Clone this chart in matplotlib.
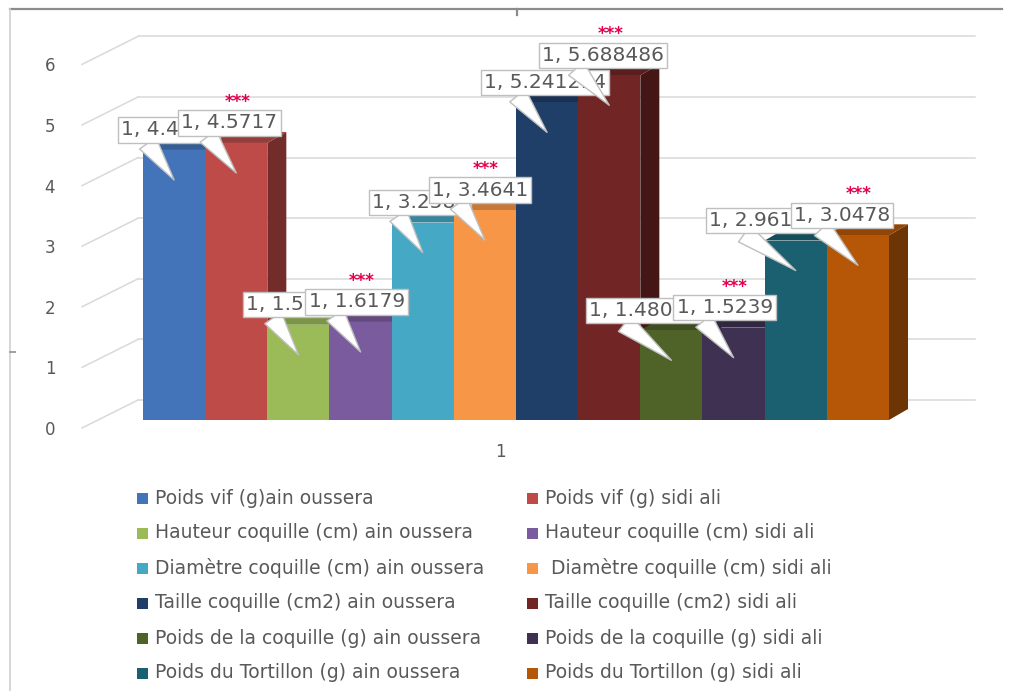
import matplotlib
matplotlib.use("Agg")
import matplotlib.pyplot as plt
from matplotlib.patches import Polygon, Rectangle
from matplotlib.colors import to_rgb
import numpy as np

# ---------------- data ----------------
series = ["Poids vif (g)ain oussera", "Poids vif (g) sidi ali",
          "Hauteur coquille (cm) ain oussera", "Hauteur coquille (cm) sidi ali",
          "Diamètre coquille (cm) ain oussera", " Diamètre coquille (cm) sidi ali",
          "Taille coquille (cm2) ain oussera", "Taille coquille (cm2) sidi ali",
          "Poids de la coquille (g) ain oussera", "Poids de la coquille (g) sidi ali",
          "Poids du Tortillon (g) ain oussera", "Poids du Tortillon (g) sidi ali"]
values = [4.4563, 4.5717, 1.5718, 1.6179, 3.2583, 3.4641,
          5.241214, 5.688486, 1.480417, 1.5239, 2.961538, 3.0478]
signif = ["", "***", "", "***", "", "***", "", "***", "", "***", "", "***"]
category = "1"
yticks = [0, 1, 2, 3, 4, 5, 6]
colors = ["#4374B9", "#BE4B48", "#9BBB59", "#7A5C9E", "#45A8C4", "#F79646",
          "#1F3F68", "#722525", "#4F6228", "#3F3151", "#1B6070", "#B65708"]

# ---------------- layout helpers (pixel-based frame) ----------------
W, H = 1012, 691
S = 60.6          # pixels per unit
FLOOR = 420       # pixel row of value 0 on the front plane
def Y(p):         # pixel row -> data y
    return (FLOOR - p) / S

fig = plt.figure(figsize=(W / 100, H / 100), dpi=100)
ax = fig.add_axes([0, 0, 1, 1])
ax.set_xlim(0, W)
ax.set_ylim(Y(H), Y(0))
ax.axis("off")

grey_txt = "#595959"
grid_c = "#D9D9D9"

# frame of the chart object
ax.plot([10, 1002], [Y(9), Y(9)], color="#8C8C8C", lw=1.6, zorder=0.5)
ax.plot([10, 10], [Y(9), Y(H)], color="#D0D0D0", lw=1.2, zorder=0.5)
ax.plot([517, 517], [Y(9), Y(15)], color="#8C8C8C", lw=1.6, zorder=0.5)
ax.plot([10, 15], [Y(352), Y(352)], color="#A0A0A0", lw=1.4, zorder=0.5)

# walls / gridlines
back_x0, back_x1 = 138, 975
side_x0 = 82
back_off = 20 / S
front_off = -8 / S
for v in yticks:
    ax.plot([side_x0, back_x0], [v + front_off, v + back_off], color=grid_c, lw=1.1, zorder=1)
    ax.plot([back_x0, back_x1], [v + back_off, v + back_off], color=grid_c, lw=1.1, zorder=1)
    ax.text(50, v - 10 / S, str(v), ha="center", va="center", fontsize=12,
            color=grey_txt, family="DejaVu Sans")

# ---------------- 3D-looking bars ----------------
n = len(values)
x0 = 143
bw = (889 - 143) / n
dx = 19
dy = 11 / S
lefts = x0 + bw * np.arange(n)

def shade(c, f):
    r, g, b = to_rgb(c)
    return (r * f, g * f, b * f)

bars = ax.bar(lefts, values, width=bw, align="edge", color=colors, linewidth=0)
for i, (L, v, c, p) in enumerate(zip(lefts, values, colors, bars.patches)):
    R = L + bw
    side = Polygon([(R, 0), (R + dx, dy), (R + dx, v + dy), (R, v)],
                   closed=True, fc=shade(c, 0.6), ec="none", zorder=3 + 3 * i)
    top = Polygon([(L, v), (R, v), (R + dx, v + dy), (L + dx, v + dy)],
                  closed=True, fc=shade(c, 0.8), ec="none", zorder=4 + 3 * i)
    ax.add_patch(side)
    ax.add_patch(top)
    p.set_zorder(5 + 3 * i)

# category label
ax.text(500, Y(452), category, ha="center", va="center",
        fontsize=12, color=grey_txt, family="DejaVu Sans")

# ---------------- callouts ----------------
fs_call = 14.5
# horizontal offset (pixels) of each callout box's text start from the bar centre
box_dx = [-53, -55, -52, -52, -51, -53, -63, -67, -82, -57, -87, -64]
for i, (L, v, s, bx) in enumerate(zip(lefts, values, signif, box_dx)):
    cx = L + bw / 2
    tip = (cx, v - 30 / S)
    ax.annotate(f"{category}, {v}", xy=tip, xycoords="data",
                xytext=(bx, 50), textcoords="offset pixels",
                ha="left", va="center", fontsize=fs_call, color=grey_txt,
                family="DejaVu Sans",
                bbox=dict(boxstyle="square,pad=0.16", fc="white", ec="#BFBFBF", lw=1),
                arrowprops=dict(arrowstyle="wedge,tail_width=1.0,shrink_factor=0.5",
                                fc="white", ec="#BFBFBF", lw=1, relpos=(0.25, 0.0),
                                shrinkA=0, shrinkB=0),
                zorder=50 + i)
    if s:
        ax.annotate(s, xy=(cx, v), xycoords="data", xytext=(1, 36),
                    textcoords="offset pixels", ha="center", va="baseline",
                    fontsize=12, fontweight="bold", color="#E3004F",
                    family="DejaVu Sans", zorder=80)

# ---------------- legend ----------------
fs_leg = 13.5
for i, (name, c) in enumerate(zip(series, colors)):
    r, col = divmod(i, 2)
    yp = 498 + 35 * r
    sx = 137 if col == 0 else 527
    tx = 155 if col == 0 else 545
    ax.add_patch(Rectangle((sx, Y(yp + 5.5)), 11, 11 / S, fc=c, ec="none", zorder=5))
    ax.text(tx, Y(yp), name, ha="left", va="center", fontsize=fs_leg,
            color=grey_txt, family="DejaVu Sans")

fig.savefig("out.png", dpi=100, facecolor="white")
